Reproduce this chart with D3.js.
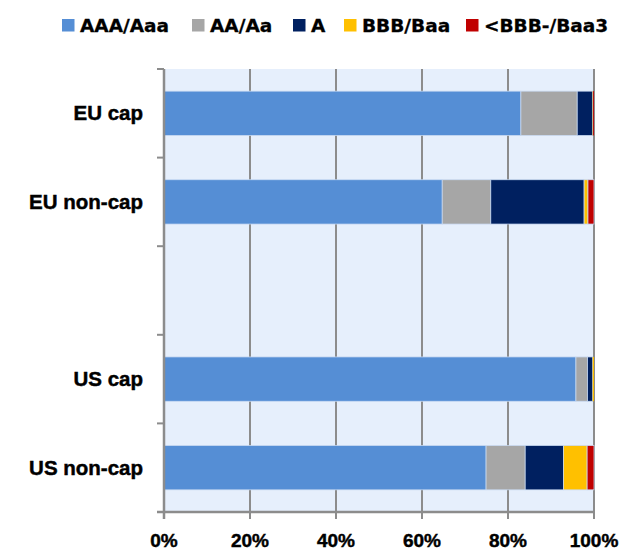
<!DOCTYPE html>
<html>
<head>
<meta charset="utf-8">
<script src="https://cdn.jsdelivr.net/npm/d3@7"></script>
<style>
  body { margin: 0; background: #fff; }
  text { font-family: "Liberation Sans", Arial, sans-serif; font-weight: bold; fill: #000; stroke: #000; stroke-width: 0.45px; }
  .legend text { font-family: "DejaVu Sans", sans-serif; stroke-width: 0.3px; }
</style>
</head>
<body>
<div id="chart"></div>
<script>
// categories (empty slot between EU and US groups)
var categories = ["EU cap", "EU non-cap", "", "US cap", "US non-cap"];
var ratings = ["AAA/Aaa", "AA/Aa", "A", "BBB/Baa", "<BBB-/Baa3"];

// share of each rating, in %, per category
var aaa   = [83.0, 64.7, 0, 95.8, 74.9];
var aa    = [13.1, 11.3, 0,  2.7,  9.1];
var aOnly = [ 3.6, 21.7, 0,  1.2,  8.9];
var bbb   = [ 0.1,  0.9, 0,  0.3,  5.5];
var junk  = [ 0.2,  1.4, 0,  0.0,  1.6];

var xTicks = [0, 20, 40, 60, 80, 100];

var color = d3.scaleOrdinal()
    .domain(ratings)
    .range(["#558ed5", "#a6a6a6", "#002060", "#ffc000", "#c00000"]);

var rows = categories.map(function(c, i) {
  return {cat: c, "AAA/Aaa": aaa[i], "AA/Aa": aa[i], "A": aOnly[i], "BBB/Baa": bbb[i], "<BBB-/Baa3": junk[i]};
});

var margin = {top: 69, right: 37, bottom: 38, left: 164},
    width = 631 - margin.left - margin.right,
    height = 550 - margin.top - margin.bottom;

var svg = d3.select("#chart").append("svg")
    .attr("width", 631)
    .attr("height", 550);

var g = svg.append("g")
    .attr("transform", `translate(${margin.left},${margin.top})`);

var x = d3.scaleLinear().domain([0, 100]).range([0, width]);
var y = d3.scaleBand().domain(d3.range(categories.length)).range([0, height])
    .paddingInner(0.5).paddingOuter(0.25);

// plot background
g.append("rect")
  .attr("width", width).attr("height", height)
  .attr("fill", "#e6effc");

// vertical grid
g.append("g")
  .selectAll("line")
  .data(xTicks.slice(1))
  .join("line")
    .attr("x1", d => x(d)).attr("x2", d => x(d))
    .attr("y1", 0).attr("y2", height)
    .attr("stroke", "#8c8c8c").attr("stroke-width", 2);

// stacked bars
var stack = d3.stack().keys(ratings)(rows);
g.append("g")
  .selectAll("g")
  .data(stack)
  .join("g")
    .attr("fill", d => color(d.key))
  .selectAll("rect")
  .data(d => d)
  .join("rect")
    .attr("x", d => x(d[0]))
    .attr("y", (d, i) => y(i))
    .attr("width", d => Math.max(0, x(d[1]) - x(d[0])))
    .attr("height", y.bandwidth())
    .attr("stroke", "#c9daf2")
    .attr("stroke-width", d => (d[1] - d[0]) > 0.5 ? 0.75 : 0);

// y axis
var yAxis = g.append("g");
yAxis.append("line")
  .attr("x1", 0).attr("x2", 0).attr("y1", 0).attr("y2", height + 7)
  .attr("stroke", "#8c8c8c").attr("stroke-width", 2.5);
yAxis.selectAll(".tk")
  .data(d3.range(categories.length + 1))
  .join("line")
    .attr("x1", -7).attr("x2", 0)
    .attr("y1", d => d * height / categories.length)
    .attr("y2", d => d * height / categories.length)
    .attr("stroke", "#8c8c8c").attr("stroke-width", 2);
yAxis.selectAll("text")
  .data(categories)
  .join("text")
    .attr("x", -21)
    .attr("y", (d, i) => y(i) + y.bandwidth() / 2)
    .attr("dy", "0.35em")
    .attr("text-anchor", "end")
    .style("font-size", "20.5px")
    .text(d => d);

// x axis
var xAxis = g.append("g").attr("transform", `translate(0,${height})`);
xAxis.append("line")
  .attr("x1", -7).attr("x2", width)
  .attr("stroke", "#8c8c8c").attr("stroke-width", 2.5);
xAxis.selectAll("line.tk")
  .data(xTicks)
  .join("line")
    .attr("class", "tk")
    .attr("x1", d => x(d)).attr("x2", d => x(d))
    .attr("y1", 0).attr("y2", 7)
    .attr("stroke", "#8c8c8c").attr("stroke-width", 2);
xAxis.selectAll("text")
  .data(xTicks)
  .join("text")
    .attr("x", d => x(d))
    .attr("y", 35)
    .attr("text-anchor", "middle")
    .style("font-size", "19px")
    .text(d => d + "%");

// legend
var legendX = [62, 192, 293, 344, 466];
var legend = svg.append("g").attr("class", "legend")
  .selectAll("g")
  .data(ratings)
  .join("g")
    .attr("transform", (d, i) => `translate(${legendX[i]},19)`);
legend.append("rect")
  .attr("width", 12.5).attr("height", 12.5)
  .attr("fill", d => color(d));
legend.append("text")
  .attr("x", 18).attr("y", 12.7)
  .style("font-size", "18.5px")
  .text(d => d);
</script>
</body>
</html>
